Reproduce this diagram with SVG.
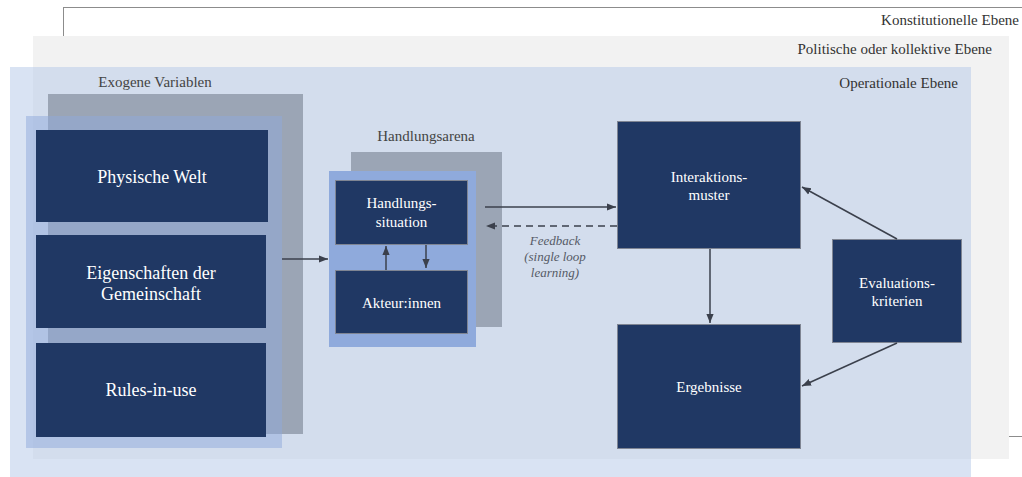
<svg xmlns="http://www.w3.org/2000/svg" width="1022" height="477" viewBox="0 0 1022 477" font-family="'Liberation Serif', 'Times New Roman', Times, serif">
  <defs>
    <style>
      text { font-family: 'Liberation Serif', 'Times New Roman', Times, serif; }
      .lbl { font-size: 15px; fill: #333333; }
      .grp { font-size: 15px; fill: #444444; text-anchor: middle; }
      .big { font-size: 18px; fill: #ffffff; text-anchor: middle; }
      .txt { font-size: 15px; fill: #ffffff; text-anchor: middle; }
      .note { font-size: 13px; font-style: italic; fill: #555a66; text-anchor: middle; }
      .box { fill: #203864; }
      .boxs { fill: #203864; stroke: #7f8593; stroke-width: 1; }
      .con { stroke: #3b404c; stroke-width: 1.5; fill: none; }
    </style>
    <marker id="ah" viewBox="0 0 10 10" refX="10" refY="5" markerWidth="6" markerHeight="6" orient="auto">
      <path d="M0,1 L10,5 L0,9 z" fill="#3b404c"/>
    </marker>
  </defs>

  <!-- nested levels -->
  <g id="level-constitutional">
    <rect x="63.5" y="7.5" width="1000" height="429" fill="#ffffff" stroke="#8c8c8c" stroke-width="1"/>
    <text class="lbl" x="1019" y="25" text-anchor="end">Konstitutionelle Ebene</text>
  </g>
  <g id="level-collective">
    <rect x="33" y="36" width="976" height="423" fill="#f2f2f2"/>
    <text class="lbl" x="992" y="54" text-anchor="end">Politische oder kollektive Ebene</text>
  </g>
  <g id="level-operational">
    <rect x="10" y="67" width="961" height="410" fill="#b4c7e7" fill-opacity="0.5"/>
    <text class="lbl" x="958" y="88" text-anchor="end">Operationale Ebene</text>
  </g>

  <!-- exogenous variables -->
  <g id="exogene-variablen">
    <text class="grp" x="155" y="87">Exogene Variablen</text>
    <rect x="48" y="94" width="255" height="340" fill="#9ba5b5"/>
    <rect x="26" y="116" width="256" height="332" fill="#8faadc" fill-opacity="0.5"/>
  </g>
  <g id="physische-welt">
    <rect class="box" x="36" y="130" width="232" height="92"/>
    <text class="big" x="152" y="183">Physische Welt</text>
  </g>
  <g id="eigenschaften">
    <rect class="box" x="36" y="235" width="230" height="93"/>
    <text class="big" x="151" y="279">Eigenschaften der</text>
    <text class="big" x="151" y="300">Gemeinschaft</text>
  </g>
  <g id="rules-in-use">
    <rect class="box" x="36" y="343" width="230" height="94"/>
    <text class="big" x="151" y="396">Rules-in-use</text>
  </g>

  <!-- action arena -->
  <g id="handlungsarena">
    <text class="grp" x="426" y="141">Handlungsarena</text>
    <rect x="351" y="152" width="151" height="175" fill="#9ba5b5"/>
    <rect x="329" y="171" width="147" height="176" fill="#8faadc"/>
  </g>
  <g id="handlungssituation">
    <rect class="boxs" x="335.5" y="180.5" width="132" height="64"/>
    <text class="txt" x="401.5" y="208">Handlungs-</text>
    <text class="txt" x="401.5" y="227">situation</text>
  </g>
  <g id="akteurinnen">
    <rect class="boxs" x="335.5" y="270.5" width="132" height="63"/>
    <text class="txt" x="401.5" y="308">Akteur:innen</text>
  </g>

  <!-- outcomes side -->
  <g id="interaktionsmuster">
    <rect class="boxs" x="617.5" y="121.5" width="183" height="127"/>
    <text class="txt" x="709" y="182">Interaktions-</text>
    <text class="txt" x="709" y="200">muster</text>
  </g>
  <g id="ergebnisse">
    <rect class="boxs" x="617.5" y="324.5" width="183" height="124"/>
    <text class="txt" x="709" y="392">Ergebnisse</text>
  </g>
  <g id="evaluationskriterien">
    <rect class="boxs" x="832.5" y="239.5" width="129" height="103"/>
    <text class="txt" x="897" y="288">Evaluations-</text>
    <text class="txt" x="897" y="306">kriterien</text>
  </g>

  <!-- connectors -->
  <g id="connectors">
    <line class="con" x1="282" y1="259" x2="328" y2="259" marker-end="url(#ah)"/>
    <line class="con" x1="386" y1="270" x2="386" y2="246" marker-end="url(#ah)"/>
    <line class="con" x1="426" y1="245" x2="426" y2="268" marker-end="url(#ah)"/>
    <line class="con" x1="485" y1="207" x2="616" y2="207" marker-end="url(#ah)"/>
    <line class="con" x1="617" y1="226" x2="486" y2="226" stroke-dasharray="7 5" marker-end="url(#ah)"/>
    <line class="con" x1="710" y1="249" x2="710" y2="323" marker-end="url(#ah)"/>
    <line class="con" x1="897" y1="239" x2="802" y2="187" marker-end="url(#ah)"/>
    <line class="con" x1="897" y1="343" x2="802" y2="386" marker-end="url(#ah)"/>
    <text class="note" x="555" y="245">Feedback</text>
    <text class="note" x="555" y="261">(single loop</text>
    <text class="note" x="555" y="277">learning)</text>
  </g>
</svg>
